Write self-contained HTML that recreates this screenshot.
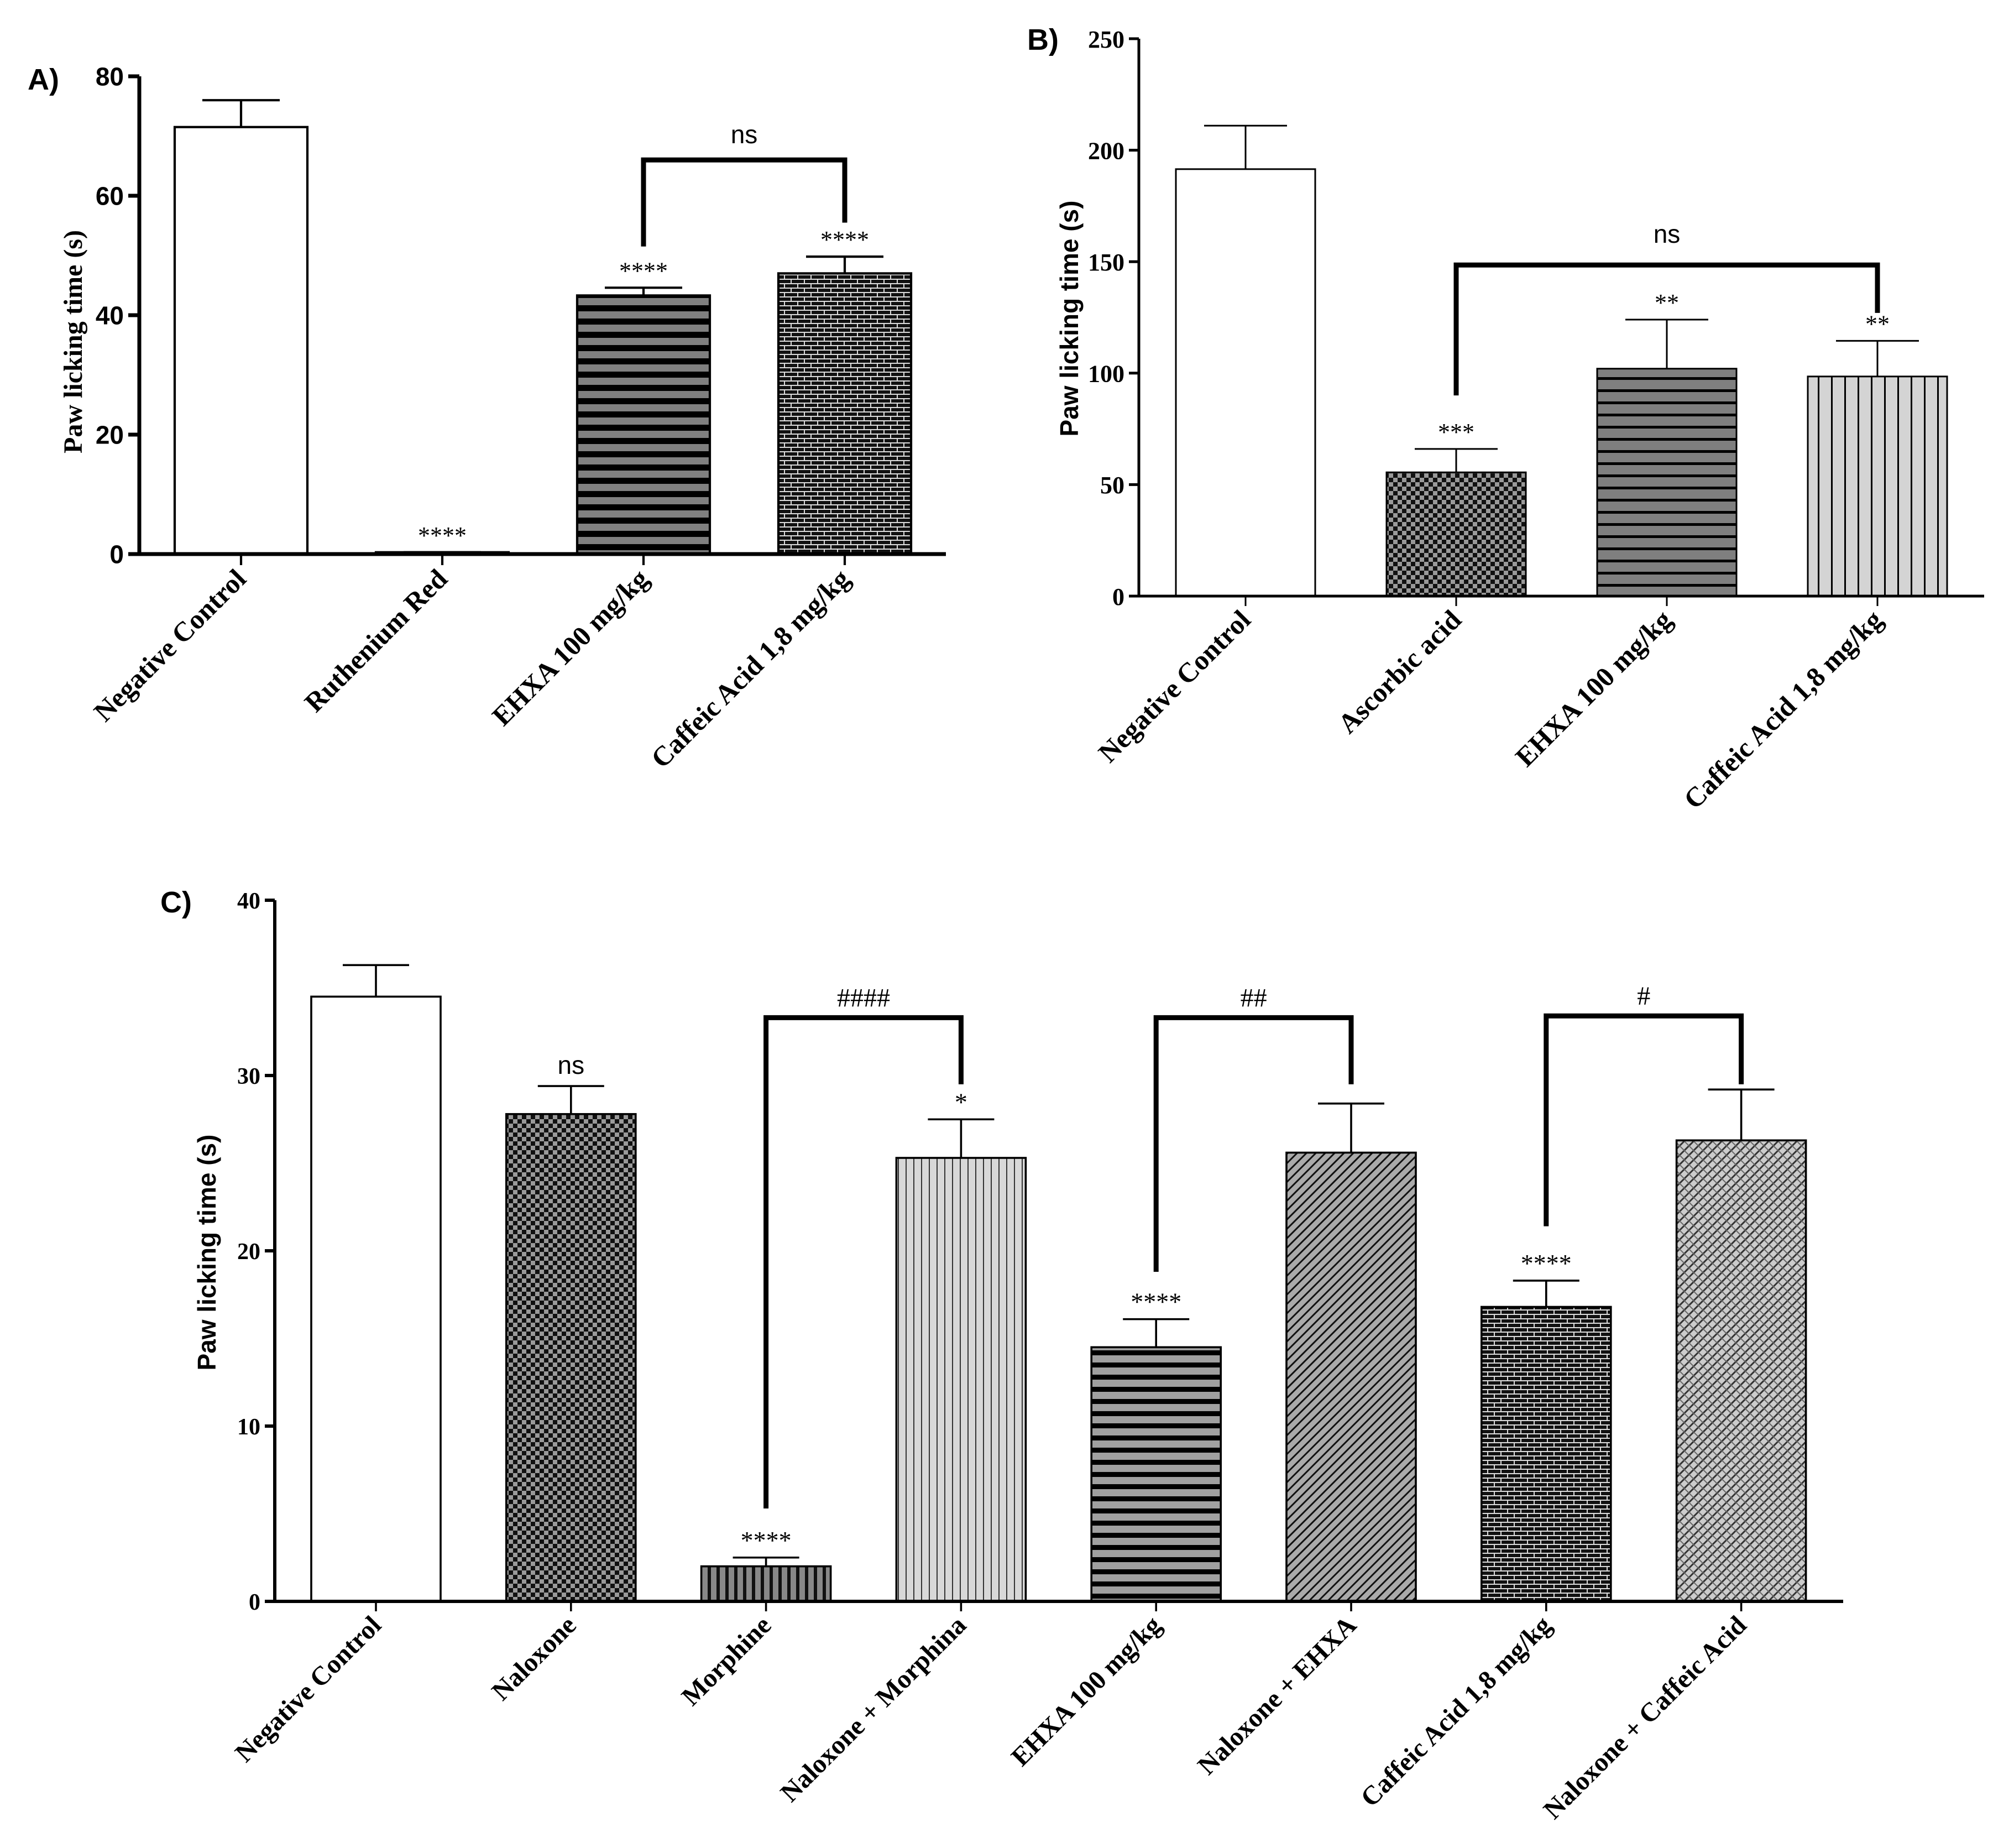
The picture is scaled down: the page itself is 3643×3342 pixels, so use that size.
<!DOCTYPE html>
<html><head><meta charset="utf-8"><style>
html,body{margin:0;padding:0;background:#fff;}
svg{display:block;}
</style></head><body>
<svg id="fig" width="3643" height="3342" viewBox="0 0 3643 3342" xmlns="http://www.w3.org/2000/svg">
<defs>
<pattern id="pHstripe" width="20" height="24" patternUnits="userSpaceOnUse"><rect width="20" height="24" fill="#808080"/><rect y="0" width="20" height="11" fill="#000"/></pattern>
<pattern id="pHstripeB" width="20" height="22" patternUnits="userSpaceOnUse"><rect width="20" height="22" fill="#7f7f7f"/><rect y="0" width="20" height="5" fill="#000"/></pattern>
<pattern id="pHstripeC" width="20" height="22" patternUnits="userSpaceOnUse"><rect width="20" height="22" fill="#a0a0a0"/><rect y="0" width="20" height="9" fill="#000"/></pattern>
<pattern id="pBrick" width="24" height="16" patternUnits="userSpaceOnUse"><rect width="24" height="16" fill="#111"/><path d="M0 1H24M0 9H24M3 1V9M15 9V16" stroke="#ddd" stroke-width="2"/></pattern>
<pattern id="pChecker" width="16" height="16" patternUnits="userSpaceOnUse"><rect width="16" height="16" fill="#999"/><rect width="8" height="8" fill="#111"/><rect x="8" y="8" width="8" height="8" fill="#111"/></pattern>
<pattern id="pVlight" width="24" height="20" patternUnits="userSpaceOnUse"><rect width="24" height="20" fill="#d4d4d4"/><rect width="3" height="20" fill="#000"/></pattern>
<pattern id="pVlightC" width="14" height="20" patternUnits="userSpaceOnUse"><rect width="14" height="20" fill="#d8d8d8"/><rect width="2" height="20" fill="#333"/></pattern>
<pattern id="pVdark" width="16" height="20" patternUnits="userSpaceOnUse"><rect width="16" height="20" fill="#888"/><rect width="6" height="20" fill="#111"/></pattern>
<pattern id="pDiag" width="12" height="12" patternUnits="userSpaceOnUse" patternTransform="rotate(45)"><rect width="12" height="12" fill="#aaa"/><rect width="3" height="12" fill="#111"/></pattern>
<pattern id="pCross" width="12" height="12" patternUnits="userSpaceOnUse" patternTransform="rotate(45)"><rect width="12" height="12" fill="#ccc"/><rect width="3" height="12" fill="#333"/><rect width="12" height="2" fill="#666"/></pattern>
</defs>
</svg>
<script>
const NS='http://www.w3.org/2000/svg';
const svg=document.getElementById('fig');

// ---- Panel A data ----
const catsA=['Negative Control','Ruthenium Red','EHXA 100 mg/kg','Caffeic Acid 1,8 mg/kg'];
const valsA=[71.5,0.3,43.3,47];
const errsA=[76,0.3,44.6,49.8];
const sigA=['','****','****','****'];
const ticksA=[0,20,40,60,80];
// ---- Panel B data ----
const catsB=['Negative Control','Ascorbic acid','EHXA 100 mg/kg','Caffeic Acid 1,8 mg/kg'];
const valsB=[191.5,55.5,102,98.5];
const errsB=[211,66,124,114.5];
const sigB=['','***','**','**'];
const ticksB=[0,50,100,150,200,250];
// ---- Panel C data ----
const catsC=['Negative Control','Naloxone','Morphine','Naloxone + Morphina','EHXA 100 mg/kg','Naloxone + EHXA','Caffeic Acid 1,8 mg/kg','Naloxone + Caffeic Acid'];
const valsC=[34.5,27.8,2.0,25.3,14.5,25.6,16.8,26.3];
const errsC=[36.3,29.4,2.5,27.5,16.1,28.4,18.3,29.2];
const sigC=['','ns','****','*','****','','****',''];
const ticksC=[0,10,20,30,40];

function el(tag,attrs,parent){const e=document.createElementNS(NS,tag);for(const k in attrs)e.setAttribute(k,attrs[k]);(parent||svg).appendChild(e);return e;}

function panel(cfg){
  const g=el('g',{});
  
  
  const y=v=>cfg.y0-(v-cfg.min)/(cfg.max-cfg.min)*(cfg.y0-cfg.yTop);
  const x=i=>cfg.c0+i*cfg.step;
  const t=el('text',{x:cfg.letterX,y:cfg.letterY,'font-family':'Liberation Sans, sans-serif','font-weight':'bold','font-size':cfg.letterSize},g);
  t.textContent=cfg.letter;
  
  
  cfg.vals.forEach((v,i)=>{
    const cx=x(i);
    const eb=el('path',{d:`M${cx} ${y(v)}V${y(cfg.errs[i])}M${cx-cfg.capW/2} ${y(cfg.errs[i])}H${cx+cfg.capW/2}`,stroke:'#000','stroke-width':cfg.lw*0.6,fill:'none'},g);
    
    
    const r=el('rect',{x:cx-cfg.barW/2,y:y(v),width:cfg.barW,height:Math.max(cfg.y0-y(v),1),fill:cfg.fills[i],stroke:'#000','stroke-width':cfg.lw*0.6},g);
    
    
    if(cfg.sig[i]){
      const isNs=cfg.sig[i]==='ns';
      const s=el('text',{x:cx,y:y(cfg.errs[i])-(isNs?22:16),'text-anchor':'middle','font-family':isNs?'Liberation Sans, sans-serif':'Liberation Serif, serif','font-size':isNs?cfg.nsSize:cfg.starSize},g);
      s.textContent=cfg.sig[i];
      
      
    }
    el('line',{x1:cx,x2:cx,y1:cfg.y0,y2:cfg.y0+cfg.tickLen,stroke:'#000','stroke-width':cfg.lw*0.6},g);
    const lx=cx+12, ly=cfg.y0+cfg.tickLen+cfg.labelGap;
    const lab=el('text',{x:lx,y:ly,transform:`rotate(-45 ${lx} ${ly})`,'text-anchor':'end','font-family':'Liberation Serif, serif','font-weight':'bold','font-size':cfg.xlabSize},g);
    lab.textContent=cfg.cats[i];
    
    
  });
  const ax=el('path',{d:`M${cfg.ax} ${cfg.yTop}V${cfg.y0}H${cfg.xEnd}`,stroke:'#000','stroke-width':cfg.lw,fill:'none'},g);
  
  
  cfg.ticks.forEach(v=>{
    el('line',{x1:cfg.ax-cfg.tickLen,x2:cfg.ax,y1:y(v),y2:y(v),stroke:'#000','stroke-width':cfg.lw},g);
    const tl=el('text',{x:cfg.ax-cfg.tickLen-8,y:y(v)+cfg.tickSize*0.36,'text-anchor':'end','font-family':cfg.tickFont,'font-weight':'bold','font-size':cfg.tickSize},g);
    tl.textContent=v;
    
    
  });
  const yl=el('text',{x:cfg.ylX,y:cfg.ylY,transform:`rotate(-90 ${cfg.ylX} ${cfg.ylY})`,'text-anchor':'middle','font-family':cfg.ylFont,'font-weight':'bold','font-size':cfg.ylSize},g);
  yl.textContent='Paw licking time (s)';
  
  
  cfg.brackets.forEach(b=>{
    const xa=x(b.a), xb=x(b.b);
    const p=el('path',{d:`M${xa} ${y(b.la)}V${y(b.top)}H${xb}V${y(b.lb)}`,stroke:'#000','stroke-width':cfg.bw,fill:'none'},g);
    
    
    const bt=el('text',{x:(xa+xb)/2,y:y(b.top)-b.gap,'text-anchor':'middle','font-family':b.label==='ns'?'Liberation Sans, sans-serif':'Liberation Serif, serif','font-size':b.size},g);
    bt.textContent=b.label;
    
    
  });
}

panel({name:'panel-a',letter:'A)',letterX:50,letterY:162,letterSize:54,cats:catsA,vals:valsA,errs:errsA,sig:sigA,ticks:ticksA,
  min:0,max:80,y0:1002,yTop:138,ax:252,xEnd:1711,c0:436,step:364,barW:240,capW:140,lw:7,bw:9,tickLen:20,labelGap:28,
  fills:['#fff','#fff','url(#pHstripe)','url(#pBrick)'],tickFont:'Liberation Sans, sans-serif',tickSize:46,
  ylX:148,ylY:618,ylFont:'Liberation Serif, serif',ylSize:48,xlabSize:50,starSize:44,nsSize:46,
  brackets:[{a:2,b:3,top:66,la:51.5,lb:55.5,label:'ns',size:46,gap:30}]});

panel({name:'panel-b',letter:'B)',letterX:1858,letterY:90,letterSize:54,cats:catsB,vals:valsB,errs:errsB,sig:sigB,ticks:ticksB,
  min:0,max:250,y0:1078,yTop:70,ax:2060,xEnd:3589,c0:2253,step:381,barW:252,capW:150,lw:5,bw:9,tickLen:18,labelGap:28,
  fills:['#fff','url(#pChecker)','url(#pHstripeB)','url(#pVlight)'],tickFont:'Liberation Serif, serif',tickSize:44,
  ylX:1950,ylY:576,ylFont:'Liberation Sans, sans-serif',ylSize:46,xlabSize:50,starSize:44,nsSize:46,
  brackets:[{a:1,b:3,top:148.5,la:90,lb:127,label:'ns',size:46,gap:40}]});

panel({name:'panel-c',letter:'C)',letterX:290,letterY:1650,letterSize:54,cats:catsC,vals:valsC,errs:errsC,sig:sigC,ticks:ticksC,
  min:0,max:40,y0:2896,yTop:1628,ax:497,xEnd:3334,c0:680,step:352.8,barW:234,capW:120,lw:6,bw:9,tickLen:18,labelGap:28,
  fills:['#fff','url(#pChecker)','url(#pVdark)','url(#pVlightC)','url(#pHstripeC)','url(#pDiag)','url(#pBrick)','url(#pCross)'],
  tickFont:'Liberation Serif, serif',tickSize:42,
  ylX:390,ylY:2265,ylFont:'Liberation Sans, sans-serif',ylSize:46,xlabSize:48,starSize:46,nsSize:46,
  brackets:[{a:2,b:3,top:33.3,la:5.3,lb:29.5,label:'####',size:48,gap:20},
            {a:4,b:5,top:33.3,la:18.8,lb:29.5,label:'##',size:48,gap:20},
            {a:6,b:7,top:33.4,la:21.4,lb:29.5,label:'#',size:48,gap:20}]});
</script>
</body></html>
